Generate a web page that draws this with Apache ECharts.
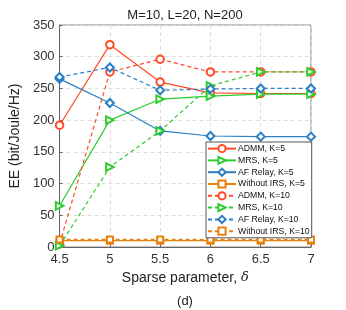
<!DOCTYPE html>
<html><head><meta charset="utf-8">
<script src="https://cdn.jsdelivr.net/npm/echarts@6/dist/echarts.min.js"></script>
<style>html,body{margin:0;padding:0;background:#fff}#c{width:346px;height:310px}</style>
</head><body><div id="c"></div>
<script>
const xs = [4.5, 5, 5.5, 6, 6.5, 7];
const admmK5 = [192, 319, 260, 243, 242, 242];
const mrsK5 = [65, 200, 233, 238, 241, 241];
const afK5 = [265, 227, 183, 175, 174, 174];
const noIrsK5 = [10, 10, 10, 10, 10, 10];
const admmK10 = [5, 276, 296, 276, 276, 276];
const mrsK10 = [2, 126, 183, 254, 276, 276];
const afK10 = [268, 283, 247, 249, 250, 250];
const noIrsK10 = [12, 12, 12, 12, 12, 12];
const names = ['ADMM, K=5','MRS, K=5','AF Relay, K=5','Without IRS, K=5','ADMM, K=10','MRS, K=10','AF Relay, K=10','Without IRS, K=10'];

const RED='#ff4a26', GRN='#2ecc2e', BLU='#2a7fc4', ORG='#e8820f';
const font='Liberation Sans, Arial, sans-serif';
function mk(name, data, color, symbol, dashed, rot){
  return {
    name, type:'line', data: xs.map((x,i)=>[x,data[i]]),
    symbol, symbolSize: symbol==='emptyRect'?6:(symbol==='emptyDiamond'?8:7.5), symbolRotate: rot||0,
    showAllSymbol:true,
    lineStyle:{color, width:1.2, type: dashed?[4,3]:'solid'},
    itemStyle:{color, borderColor:color, borderWidth:1.1},
    emphasis:{disabled:true}, animation:false
  };
}
const series = [
  mk(names[0], admmK5, RED, 'emptyCircle', false),
  mk(names[1], mrsK5, GRN, 'emptyTriangle', false, -90),
  mk(names[2], afK5, BLU, 'emptyDiamond', false),
  mk(names[3], noIrsK5, ORG, 'emptyRect', false),
  mk(names[4], admmK10, RED, 'emptyCircle', true),
  mk(names[5], mrsK10, GRN, 'emptyTriangle', true, -90),
  mk(names[6], afK10, BLU, 'emptyDiamond', true),
  mk(names[7], noIrsK10, ORG, 'emptyRect', true),
];
const chart = echarts.init(document.getElementById('c'), null, {renderer:'canvas'});
chart.setOption({
  animation:false,
  backgroundColor:'#fff',
  title:[
    {text:'M=10, L=20, N=200', left:180, top:4, textAlign:'center',
     textStyle:{fontFamily:font, fontSize:13, fontWeight:'normal', color:'#222'}},
    {text:'(d)', left:180, top:290, textAlign:'center',
     textStyle:{fontFamily:font, fontSize:13, fontWeight:'normal', color:'#222'}}
  ],
  grid:{left:49, top:25, width:262, height:222, show:true, borderColor:'#888', borderWidth:1, backgroundColor:'transparent'},
  legend:{
    orient:'vertical', left:206, top:142, itemGap:2.6, itemWidth:28, itemHeight:9,
    backgroundColor:'#fff', borderColor:'#555', borderWidth:1, padding:[2,2,2,1],
    textStyle:{fontFamily:font, fontSize:8.7, color:'#111', padding:[0,0,0,-3]},
    data:names, selectedMode:false
  },
  xAxis:{type:'value', min:4.5, max:7, interval:0.5,
    name:'{n|Sparse parameter, }{d|δ}', nameLocation:'middle', nameGap:23,
    nameTextStyle:{fontFamily:font, fontSize:14, color:'#222',
      rich:{n:{fontFamily:font, fontSize:14, color:'#222'}, d:{fontFamily:'DejaVu Serif, serif', fontStyle:'italic', fontSize:13, color:'#222'}}},
    axisLine:{show:true, lineStyle:{color:'#666'}},
    axisTick:{show:true, inside:true, length:3, lineStyle:{color:'#666'}},
    axisLabel:{fontFamily:font, fontSize:13, color:'#333', margin:6},
    splitLine:{show:true, lineStyle:{color:'#ddd', type:[4,3]}}
  },
  yAxis:{type:'value', min:0, max:350, interval:50,
    name:'EE (bit/Joule/Hz)', nameLocation:'middle', nameGap:33,
    nameTextStyle:{fontFamily:font, fontSize:14, color:'#222'},
    axisLine:{show:true, lineStyle:{color:'#666'}},
    axisTick:{show:true, inside:true, length:3, lineStyle:{color:'#666'}},
    axisLabel:{fontFamily:font, fontSize:13, color:'#333', margin:5},
    splitLine:{show:true, lineStyle:{color:'#ddd', type:[4,3]}}
  },
  series
});
</script></body></html>
